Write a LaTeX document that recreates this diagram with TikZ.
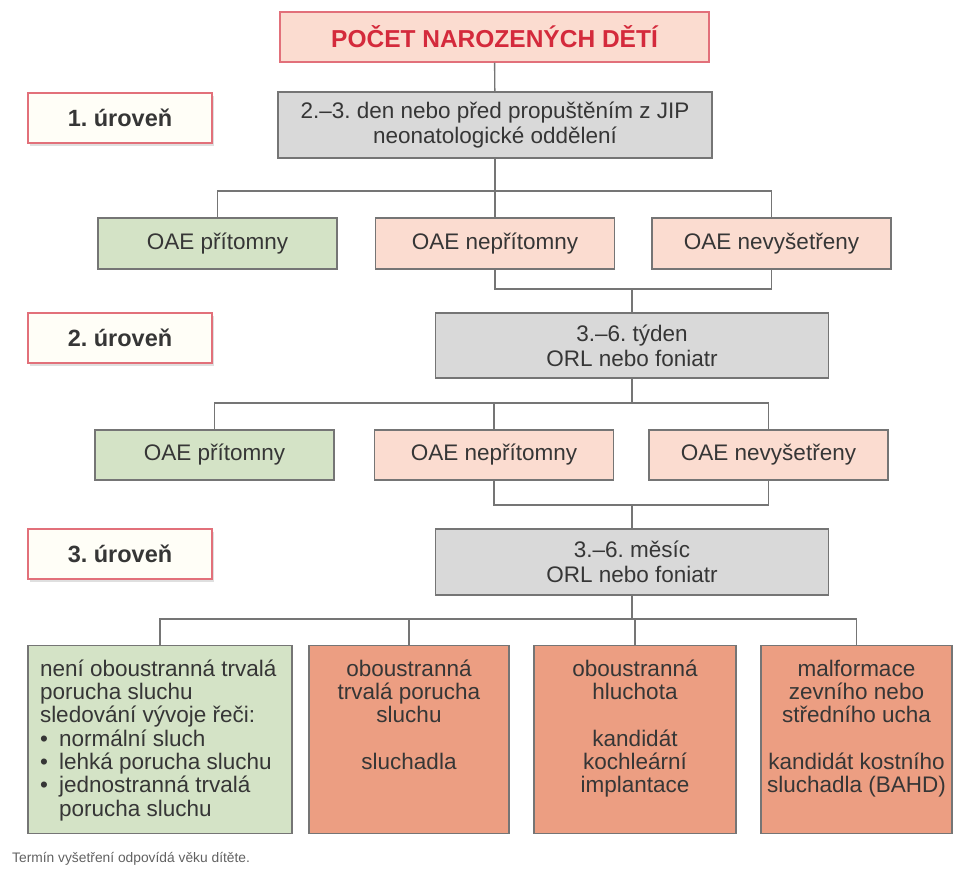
\documentclass[tikz,border=0pt]{standalone}
\usepackage{fontspec}
\setmainfont{Liberation Sans}
\usetikzlibrary{positioning,shadows}
\frenchspacing

\definecolor{linka}{HTML}{757575}
\definecolor{pismo}{HTML}{363636}
\definecolor{cervena}{HTML}{D42A3C}
\definecolor{ramcerv}{HTML}{E2707A}
\definecolor{ruzova}{HTML}{FBDCD0}
\definecolor{zelena}{HTML}{D4E3C6}
\definecolor{seda}{HTML}{D9D9D9}
\definecolor{losos}{HTML}{EC9E82}
\definecolor{krem}{HTML}{FFFEF7}

% obsah spodnich ramecku, zarovnany nahoru
\newcommand{\horni}[2]{\parbox[t][160pt][t]{#1}{#2}}
\newcommand{\bod}{\makebox[0.85em][l]{•}}

\begin{document}
\begin{tikzpicture}[x=1pt,y=-1pt,
font=\fontsize{22.5}{25}\selectfont, text=pismo,
box/.style={draw=linka, line width=1.4pt, inner sep=0pt, align=center},
titul/.style={box, draw=ramcerv, fill=ruzova, text=cervena, font=\fontsize{24.5}{28}\selectfont\bfseries, minimum width=429pt, minimum height=50pt},
uroven/.style={box, draw=ramcerv, fill=krem, font=\fontsize{23.5}{28}\selectfont\bfseries, minimum width=184pt, minimum height=50pt, drop shadow={shadow xshift=2pt, shadow yshift=-3pt, opacity=0.25}},
sede/.style={box, fill=seda, minimum width=393pt, minimum height=65pt},
zelene/.style={box, fill=zelena, minimum width=239pt, minimum height=51pt},
ruzove/.style={box, fill=ruzova, minimum width=239pt, minimum height=51pt},
dolni/.style={box, anchor=north, inner ysep=14pt, font=\fontsize{22.5}{23.3}\selectfont},
spoj/.style={draw=linka, line width=1.4pt},
poznamka/.style={anchor=west, inner sep=0pt, text=black!62, font=\fontsize{13.8}{16}\selectfont},
]
\useasboundingbox (0,0) rectangle (955,871);

% hlavicka
\node[titul] (pocet) at (494.5,37) {POČET NAROZENÝCH DĚTÍ};

% 1. uroven
\node[uroven] (u1) at (120,118) {1. úroveň};
\node[sede, minimum width=434pt, minimum height=66pt] (s1) at (495,125) {2.–3. den nebo před propuštěním z JIP\\neonatologické oddělení};
\node[zelene] (p1) at (217.5,243.5) {OAE přítomny};
\node[ruzove] (n1) at (495,243.5) {OAE nepřítomny};
\node[ruzove] (v1) at (771.5,243.5) {OAE nevyšetřeny};

% 2. uroven
\node[uroven] (u2) at (120,338) {2. úroveň};
\node[sede] (s2) at (632,345.5) {3.–6. týden\\ORL nebo foniatr};
\node[zelene, minimum height=50pt] (p2) at (214.5,455) {OAE přítomny};
\node[ruzove, minimum height=50pt] (n2) at (494,455) {OAE nepřítomny};
\node[ruzove, minimum height=50pt] (v2) at (768.5,455) {OAE nevyšetřeny};

% 3. uroven
\node[uroven] (u3) at (120,554) {3. úroveň};
\node[sede, minimum height=66pt] (s3) at (632,562) {3.–6. měsíc\\ORL nebo foniatr};
\node[dolni, fill=zelena, inner xsep=12pt, align=left] (b1) at (160,645) {\horni{240pt}{\raggedright
není oboustranná trvalá\\
porucha sluchu\\
sledování vývoje řeči:\\
\bod normální sluch\\
\bod lehká porucha sluchu\\
\bod jednostranná trvalá\\
\hspace*{0.85em}porucha sluchu}};
\node[dolni, fill=losos, inner xsep=10pt] (b2) at (409,645) {\horni{180pt}{\centering
oboustranná\\
trvalá porucha\\
sluchu\\[23.3pt]
sluchadla}};
\node[dolni, fill=losos, inner xsep=11pt] (b3) at (635,645) {\horni{180pt}{\centering
oboustranná\\
hluchota\\[23.3pt]
kandidát\\
kochleární\\
implantace}};
\node[dolni, fill=losos, inner xsep=3pt] (b4) at (856.5,645) {\horni{185pt}{\centering
malformace\\
zevního nebo\\
středního ucha\\[23.3pt]
kandidát kostního\\
sluchadla (BAHD)}};

\node[poznamka] (pozn) at (12,859) {Termín vyšetření odpovídá věku dítěte.};

% spojnice
\coordinate (r1) at (495,191);
\coordinate (j1) at (632,289);
\coordinate (r2) at (632,403);
\coordinate (j2) at (632,505);
\coordinate (r3) at (632,619);

\draw[spoj] (pocet) -- (s1);
\draw[spoj] (s1) -- (n1);
\draw[spoj] (p1.north) |- (r1) -| (v1.north);
\draw[spoj] (n1.south) |- (j1) -| (v1.south);
\draw[spoj] (j1) -- (s2);

\draw[spoj] (s2) -- (r2);
\draw[spoj] (p2.north) |- (r2) -| (v2.north);
\draw[spoj] (n2.north) -- (n2.north |- r2);
\draw[spoj] (n2.south) |- (j2) -| (v2.south);
\draw[spoj] (j2) -- (s3);

\draw[spoj] (s3) -- (r3);
\draw[spoj] (b1.north) |- (r3) -| (b4.north);
\draw[spoj] (b2.north) -- (b2.north |- r3);
\draw[spoj] (b3.north) -- (b3.north |- r3);
\end{tikzpicture}
\end{document}
